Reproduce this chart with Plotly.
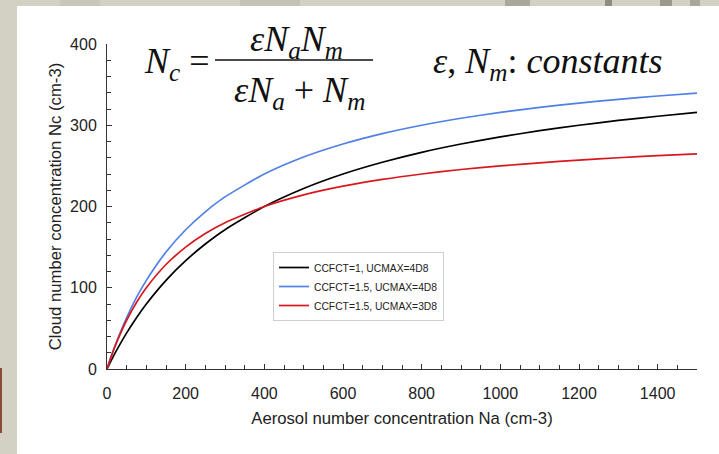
import plotly.graph_objects as go

# Data
na = [0, 10, 25, 50, 75, 100, 150, 200, 250, 300, 400, 500, 600, 700, 800, 900, 1000, 1100, 1200, 1300, 1400, 1500]
nc_black = [0, 9.8, 23.5, 44.4, 63.2, 80.0, 109.1, 133.3, 153.8, 171.4, 200.0, 222.2, 240.0, 254.5, 266.7, 276.9, 285.7, 293.3, 300.0, 305.9, 311.1, 315.8]
nc_blue = [0, 14.6, 34.3, 63.2, 88.1, 109.1, 144.0, 171.4, 193.5, 211.8, 240.0, 260.9, 276.9, 289.7, 300.0, 308.6, 315.8, 322.0, 327.3, 331.9, 336.0, 339.6]
nc_red = [0, 14.3, 33.3, 60.0, 81.8, 100.0, 128.6, 150.0, 166.7, 180.0, 200.0, 214.3, 225.0, 233.3, 240.0, 245.5, 250.0, 253.8, 257.1, 260.0, 262.5, 264.7]
series_names = ["CCFCT=1, UCMAX=4D8", "CCFCT=1.5, UCMAX=4D8", "CCFCT=1.5, UCMAX=3D8"]
series_colors = ["#000000", "#4f80e6", "#d8181e"]

W, H = 719, 454
L, R, T, B = 107, 697, 44, 369


def px(x):
    return (x - L) / (R - L)


def py(y):
    return (B - y) / (B - T)


fig = go.Figure()
for vals, name, col in zip([nc_black, nc_blue, nc_red], series_names, series_colors):
    fig.add_trace(go.Scatter(x=na, y=vals, mode="lines", name=name,
                             line=dict(color=col, width=1.7, shape="spline", smoothing=0.6)))

tickfont = dict(family="Liberation Sans, Arial, sans-serif", size=16, color="#222")
titlefont = dict(family="Liberation Sans, Arial, sans-serif", size=16.7, color="#222")

fig.update_layout(
    width=W, height=H,
    margin=dict(l=L, r=W - R, t=T, b=H - B),
    paper_bgcolor="#d3d1c3",
    plot_bgcolor="white",
    showlegend=True,
    legend=dict(x=px(273), y=py(252), xanchor="left", yanchor="top",
                bgcolor="white", bordercolor="#cfcfcf", borderwidth=1,
                font=dict(family="Liberation Sans, Arial, sans-serif", size=10.3, color="#222"),
                tracegroupgap=0, itemwidth=30),
    xaxis=dict(range=[0, 1500], tickvals=[0, 200, 400, 600, 800, 1000, 1200, 1400],
               showline=True, linecolor="#333", linewidth=1, ticks="inside", ticklen=5,
               tickcolor="#333", showgrid=False, zeroline=False, tickfont=tickfont,
               ticklabelstandoff=10,
               minor=dict(dtick=50, tick0=0, ticks="inside", ticklen=4, tickcolor="#333", showgrid=False),
               title=dict(text="Aerosol number concentration Na (cm-3)", font=titlefont, standoff=11)),
    yaxis=dict(range=[0, 400], tickvals=[0, 100, 200, 300, 400],
               showline=True, linecolor="#333", linewidth=1, ticks="inside", ticklen=5,
               tickcolor="#333", showgrid=False, zeroline=False, tickfont=tickfont,
               ticklabelstandoff=6,
               minor=dict(dtick=20, tick0=0, ticks="inside", ticklen=4, tickcolor="#333", showgrid=False),
               title=dict(text="Cloud number concentration Nc (cm-3)", font=titlefont, standoff=4)),
)

shapes = [
    # white panel
    dict(type="rect", xref="paper", yref="paper", x0=px(17), x1=px(722), y0=py(458), y1=py(6),
         fillcolor="white", line=dict(width=0), layer="below"),
    dict(type="rect", xref="paper", yref="paper", x0=px(0), x1=px(2), y0=py(368), y1=py(433),
         fillcolor="#8a4a3c", line=dict(width=0), layer="below"),
    # fraction bar
    dict(type="line", xref="paper", yref="paper", x0=px(215), x1=px(373), y0=py(60), y1=py(60),
         line=dict(color="#111", width=1.3)),
]
for x0, x1, c in [(505, 530, "#aaa89a"), (605, 612, "#8f8d80"), (660, 672, "#9a998c"), (690, 700, "#a8a699"),
                  (240, 300, "#c4c2b3"), (60, 100, "#c8c6b8")]:
    shapes.append(dict(type="rect", xref="paper", yref="paper", x0=px(x0), x1=px(x1), y0=py(6), y1=py(0),
                       fillcolor=c, line=dict(width=0), layer="below"))
fig.update_layout(shapes=shapes)

serif = dict(family="Liberation Serif, Times New Roman, serif", size=36, color="#111")
ann = [
    dict(text="<i>N</i><sub><i>c</i></sub> =", x=px(177), y=py(63)),
    dict(text="<i>εN</i><sub><i>a</i></sub><i>N</i><sub><i>m</i></sub>", x=px(296), y=py(41)),
    dict(text="<i>εN</i><sub><i>a</i></sub> + <i>N</i><sub><i>m</i></sub>", x=px(299), y=py(92)),
    dict(text="<i>ε</i>, <i>N</i><sub><i>m</i></sub>: <i>constants</i>", x=px(547), y=py(63)),
]
for a in ann:
    fig.add_annotation(xref="paper", yref="paper", showarrow=False, xanchor="center", yanchor="middle",
                       font=serif, **a)

fig.write_html("out.html", config={"displayModeBar": False},
               post_script="document.body.style.margin='0px';document.body.style.overflow='hidden';")
